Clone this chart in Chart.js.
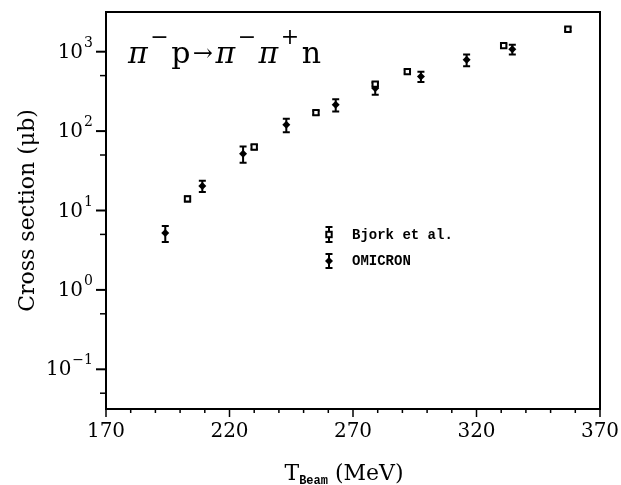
<!DOCTYPE html>
<html>
<head>
<meta charset="utf-8">
<script src="https://cdn.jsdelivr.net/npm/chart.js@4.4.1/dist/chart.umd.min.js"></script>
<style>
html, body { margin: 0; padding: 0; background: #fff; }
</style>
</head>
<body>
<canvas id="xsChart" width="621" height="485"></canvas>
<script>
// data
const bjorkEnergy = [203, 230, 255, 279, 292, 331, 357];
const bjorkXs = [14, 63, 171, 390, 561, 1194, 1920];
const bjorkErr = [1, 4, 10, 22, 30, 60, 95];

const omicronEnergy = [194, 209, 225.5, 243, 263, 279, 297.5, 316, 334.5];
const omicronXs = [5.2, 20.4, 52, 120, 214, 347, 486, 790, 1075];
const omicronErr = [1.2, 3.3, 12, 23, 38, 60, 72, 135, 152];

const xTickLabels = [170, 220, 270, 320, 370];
const yDecades = [-1, 0, 1, 2, 3];
const yMinorTicks = [0.05, 0.5, 5, 50, 500];

const serif = "DejaVu Serif";

function toPoints(xs, ys, errs) {
    return xs.map((e, i) => ({ x: e, y: ys[i], err: errs[i] }));
}

function drawBar(ctx, px, top, bot) {
    ctx.beginPath();
    ctx.moveTo(px, top); ctx.lineTo(px, bot);
    ctx.moveTo(px - 3.5, top); ctx.lineTo(px + 3.5, top);
    ctx.moveTo(px - 3.5, bot); ctx.lineTo(px + 3.5, bot);
    ctx.stroke();
}

// =======================
// Error bars
// =======================

const errorBars = {
    id: "errorBars",
    beforeDatasetsDraw(chart) {
        const { ctx, scales: { x, y } } = chart;
        ctx.save();
        ctx.strokeStyle = "#000";
        ctx.lineWidth = 2;
        chart.data.datasets.forEach(ds => {
            ds.data.forEach(p => {
                drawBar(ctx, x.getPixelForValue(p.x),
                    y.getPixelForValue(p.y + p.err),
                    y.getPixelForValue(p.y - p.err));
            });
        });
        ctx.restore();
    }
};

// =======================
// Frame, ticks, labels, legend
// =======================

const decorations = {
    id: "decorations",
    afterDraw(chart) {
        const { ctx, chartArea: a, scales: { x, y } } = chart;
        ctx.save();
        ctx.strokeStyle = "#000";
        ctx.fillStyle = "#000";

        ctx.lineWidth = 2;
        ctx.strokeRect(a.left, a.top, a.right - a.left, a.bottom - a.top);

        // x ticks
        ctx.lineWidth = 1.5;
        x.ticks.forEach(t => {
            const px = x.getPixelForValue(t.value);
            const len = xTickLabels.includes(t.value) ? 8 : 4;
            ctx.beginPath();
            ctx.moveTo(px, a.bottom);
            ctx.lineTo(px, a.bottom + len);
            ctx.stroke();
        });

        // y ticks + labels 10^n
        yMinorTicks.forEach(v => {
            const py = y.getPixelForValue(v);
            ctx.beginPath();
            ctx.moveTo(a.left - 6, py);
            ctx.lineTo(a.left, py);
            ctx.stroke();
        });
        ctx.textBaseline = "alphabetic";
        yDecades.forEach(n => {
            const py = y.getPixelForValue(Math.pow(10, n));
            ctx.lineWidth = 2;
            ctx.beginPath();
            ctx.moveTo(a.left - 10, py);
            ctx.lineTo(a.left, py);
            ctx.stroke();
            const expText = n < 0 ? "\u2212" + (-n) : String(n);
            ctx.font = "14px '" + serif + "'";
            const expW = ctx.measureText(expText).width;
            ctx.textAlign = "left";
            ctx.fillText(expText, 93 - expW, py - 5);
            ctx.font = "20px '" + serif + "'";
            ctx.textAlign = "right";
            ctx.fillText("10", 93 - expW - 1, py + 6);
        });

        // reaction title
        const segs = [
            { t: "\u03c0", f: "italic 30px", dy: 0 },
            { t: "\u2212", f: "22px", dy: -19 },
            { t: "p", f: "30px", dy: 0 },
            { t: "\u2192", f: "24px", dy: -2 },
            { t: "\u03c0", f: "italic 30px", dy: 0 },
            { t: "\u2212", f: "22px", dy: -19 },
            { t: "\u03c0", f: "italic 30px", dy: 0 },
            { t: "+", f: "22px", dy: -19 },
            { t: "n", f: "30px", dy: 0 }
        ];
        let cx = 128;
        ctx.textAlign = "left";
        segs.forEach(s => {
            ctx.font = s.f + " '" + serif + "'";
            ctx.fillText(s.t, cx, 63 + s.dy);
            cx += ctx.measureText(s.t).width + 2.5;
        });

        // x title with subscript
        const big = "22px '" + serif + "'";
        const sub = "bold 12px 'Liberation Mono'";
        ctx.font = big;
        const wT = ctx.measureText("T").width;
        const wRest = ctx.measureText(" (MeV)").width;
        ctx.font = sub;
        const wSub = ctx.measureText("Beam").width;
        let tx = 344 - (wT + wSub + wRest) / 2;
        ctx.font = big;
        ctx.fillText("T", tx, 480);
        ctx.font = sub;
        ctx.fillText("Beam", tx + wT, 484);
        ctx.font = big;
        ctx.fillText(" (MeV)", tx + wT + wSub, 480);

        // legend
        ctx.lineWidth = 2;
        ctx.font = "bold 14px 'Liberation Mono'";
        ctx.textBaseline = "middle";
        drawBar(ctx, 329, 227, 242);
        ctx.fillStyle = "#fff";
        ctx.fillRect(326.3, 231.8, 5.4, 5.4);
        ctx.strokeRect(326.3, 231.8, 5.4, 5.4);
        drawBar(ctx, 329, 254, 268);
        ctx.fillStyle = "#000";
        ctx.beginPath();
        ctx.moveTo(329, 257); ctx.lineTo(333, 261);
        ctx.lineTo(329, 265); ctx.lineTo(325, 261);
        ctx.closePath(); ctx.fill();
        ctx.fillText("Bjork et al.", 352, 235);
        ctx.fillText("OMICRON", 352, 261);

        ctx.restore();
    }
};

// =======================
// Cross section chart
// =======================

const xsCanvas = document.getElementById("xsChart");

new Chart(xsCanvas, {
    type: "scatter",
    data: {
        datasets: [{
            label: "Bjork et al.",
            data: toPoints(bjorkEnergy, bjorkXs, bjorkErr),
            pointStyle: "rect",
            pointRadius: 3.8,
            borderWidth: 2,
            borderColor: "#000",
            backgroundColor: "#fff"
        }, {
            label: "OMICRON",
            data: toPoints(omicronEnergy, omicronXs, omicronErr),
            pointStyle: "rectRot",
            pointRadius: 4,
            borderWidth: 0,
            borderColor: "#000",
            backgroundColor: "#000"
        }]
    },
    options: {
        responsive: false,
        animation: false,
        events: [],
        layout: { padding: { top: 12, right: 21, left: 0, bottom: 0 } },
        plugins: {
            legend: { display: false },
            tooltip: { enabled: false }
        },
        scales: {
            x: {
                type: "linear",
                min: 170,
                max: 370,
                grid: { display: false },
                border: { display: false },
                ticks: {
                    stepSize: 10,
                    autoSkip: false,
                    maxRotation: 0,
                    padding: 3,
                    color: "#000",
                    font: { family: serif, size: 20 },
                    callback: v => xTickLabels.includes(v) ? String(v) : ""
                },
                afterFit: s => { s.height = 76; s.paddingLeft = 0; s.paddingRight = 0; }
            },
            y: {
                type: "logarithmic",
                min: Math.pow(10, -1.5),
                max: Math.pow(10, 3.5),
                grid: { display: false },
                border: { display: false },
                ticks: { display: false },
                title: {
                    display: true,
                    text: "Cross section (\u03bcb)",
                    color: "#000",
                    font: { family: serif, size: 22 },
                    padding: { top: 15 }
                },
                afterFit: s => { s.width = 106; s.paddingTop = 0; s.paddingBottom = 0; }
            }
        }
    },
    plugins: [errorBars, decorations]
});
</script>
</body>
</html>
